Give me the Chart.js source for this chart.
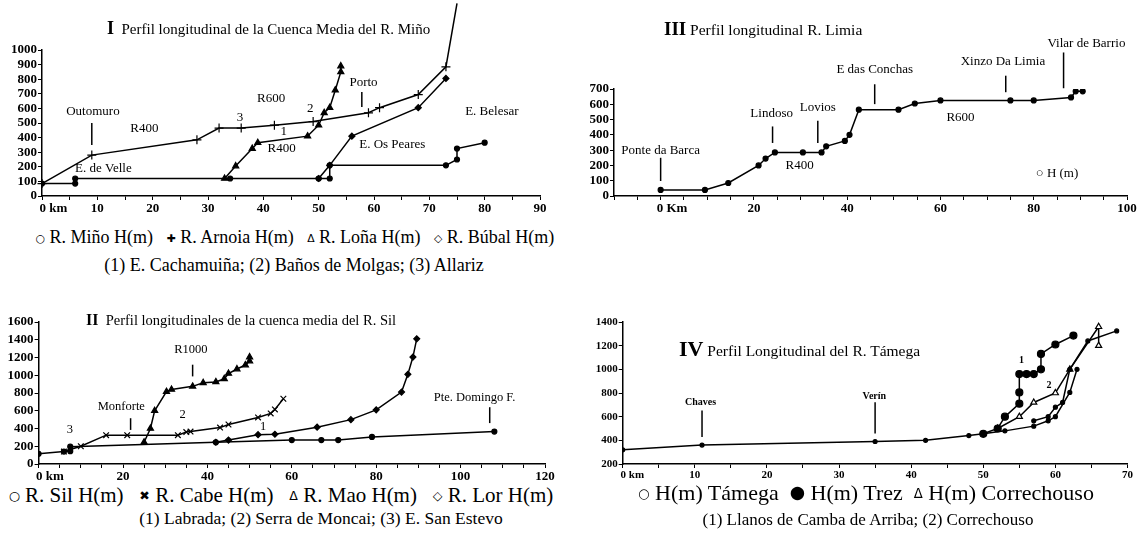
<!DOCTYPE html>
<html>
<head>
<meta charset="utf-8">
<script src="https://cdn.jsdelivr.net/npm/chart.js@4.4.1/dist/chart.umd.min.js"></script>
<style>
  body { margin: 0; background: #fff; width: 1140px; height: 553px; overflow: hidden; position: relative;
         font-family: "Liberation Serif", "Times New Roman", serif; color: #000; }
  canvas { position: absolute; }
  .c { position: absolute; white-space: nowrap; transform: translate(-50%, -50%); line-height: 1; }
  .l { position: absolute; white-space: nowrap; transform: translateY(-50%); line-height: 1; }
  .s { font-family: "DejaVu Sans", sans-serif; font-size: 0.6em; vertical-align: 0.12em; }
</style>
</head>
<body>
<canvas id="c1" width="560" height="225" style="left:0;top:0"></canvas>
<canvas id="c3" width="580" height="225" style="left:560px;top:0"></canvas>
<canvas id="c2" width="560" height="182" style="left:0;top:300px"></canvas>
<canvas id="c4" width="580" height="182" style="left:560px;top:300px"></canvas>

<div class="l" style="left:107px;top:28px;font-size:15px"><span style="font-size:18px;font-weight:bold">I</span>&nbsp; Perfil longitudinal de la Cuenca Media del R. Miño</div>
<div class="c" style="left:295px;top:237px;font-size:18px"><span class="s">○</span> R. Miño H(m)&nbsp;&nbsp; <span class="s">✚</span> R. Arnoia H(m)&nbsp;&nbsp; <span class="s">Δ</span> R. Loña H(m)&nbsp;&nbsp; <span class="s">◇</span> R. Búbal H(m)</div>
<div class="c" style="left:294px;top:265px;font-size:18px">(1) E. Cachamuiña; (2) Baños de Molgas; (3) Allariz</div>

<div class="l" style="left:664px;top:28px;font-size:15.5px"><span style="font-size:19px;font-weight:bold">III</span> Perfil longitudinal R. Limia</div>

<div class="l" style="left:86px;top:320px;font-size:14.5px"><span style="font-size:16px;font-weight:bold">II</span>&nbsp; Perfil longitudinales de la cuenca media del R. Sil</div>
<div class="c" style="left:281px;top:495px;font-size:21px"><span class="s">○</span> R. Sil H(m)&nbsp;&nbsp; <span class="s">✖</span> R. Cabe H(m)&nbsp;&nbsp; <span class="s">Δ</span> R. Mao H(m)&nbsp;&nbsp; <span class="s">◇</span> R. Lor H(m)</div>
<div class="c" style="left:321px;top:519px;font-size:17.5px">(1) Labrada; (2) Serra de Moncai; (3) E. San Estevo</div>

<div class="l" style="left:679px;top:349px;font-size:15.5px"><span style="font-size:22px;font-weight:bold">IV</span> Perfil Longitudinal del R. Támega</div>
<div class="c" style="left:866px;top:493px;font-size:22px"><span class="s">○</span> H(m) Támega&nbsp; <span class="s" style="font-size:0.8em">●</span> H(m) Trez&nbsp; <span class="s">Δ</span> H(m) Correchouso</div>
<div class="c" style="left:868px;top:519px;font-size:17px">(1) Llanos de Camba de Arriba; (2) Correchouso</div>

<script>
// ---- I: Cuenca media del Miño (km, m)
const minoKm   = [0, 6, 6, 34, 50, 52, 52, 73, 75, 75, 80];
const minoH    = [85, 85, 120, 120, 120, 120, 210, 210, 250, 325, 365];
const arnoiaKm = [0, 9, 28, 32, 36, 42, 49, 59, 61, 68, 73, 75];
const arnoiaH  = [85, 280, 385, 465, 465, 485, 510, 570, 605, 695, 885, 1320];
const lonaKm   = [33, 35, 38, 39, 48, 50, 51, 52, 53, 54, 54];
const lonaH    = [120, 205, 325, 365, 410, 485, 570, 605, 725, 850, 890];
const bubalKm  = [50, 52, 56, 68, 73];
const bubalH   = [120, 210, 410, 605, 805];

// ---- III: Limia
const limiaKm = [0, 9.5, 14.5, 21, 22.5, 24.5, 30.5, 34.5, 35.5, 39.5, 40.5, 42.5, 51, 54.5, 60, 75, 80, 88, 89, 90.5];
const limiaH  = [40, 40, 85, 200, 245, 285, 285, 285, 325, 360, 400, 565, 565, 605, 625, 625, 625, 645, 685, 685];

// ---- II: Sil
const silKm  = [0, 6, 7.5, 7.5, 42, 60, 67, 71, 79, 108];
const silH   = [115, 140, 145, 195, 245, 270, 270, 270, 305, 365];
const cabeKm = [6, 10, 16, 21, 33, 35, 36, 43, 45, 52, 55, 56, 58];
const cabeH  = [140, 200, 325, 325, 325, 360, 365, 410, 445, 525, 570, 615, 735];
const maoKm  = [25, 26.5, 27.5, 30.3, 31.5, 36.5, 39, 42, 44, 45, 47, 49, 50, 50];
const maoH   = [245, 400, 600, 815, 840, 875, 915, 925, 960, 1020, 1070, 1115, 1160, 1205];
const lorKm  = [42, 45, 52, 56, 66, 74, 80, 86, 87.5, 88.7, 89.6];
const lorH   = [245, 270, 330, 335, 415, 500, 610, 810, 1010, 1205, 1410];

// ---- IV: Támega
const tamegaKm  = [0, 11, 35, 42, 48, 50, 53, 57, 59, 60, 62, 63];
const tamegaH   = [320, 360, 390, 400, 440, 455, 480, 520, 565, 600, 805, 1000];
const tamega2Km = [57, 59, 60, 61, 62, 64.5, 68.5];
const tamega2H  = [565, 600, 680, 720, 1000, 1240, 1325];
const trezKm    = [50, 52, 53, 55, 55, 55, 56, 57, 58, 58, 60, 62.5];
const trezH     = [455, 500, 600, 710, 805, 960, 960, 960, 1000, 1130, 1210, 1285];
const correKm   = [52, 55, 57, 60, 62, 66, 66];
const correH    = [500, 600, 720, 800, 1000, 1360, 1200];

// place names and marks (km, m)
const notesI = [
  {t: 'Outomuro', x: 9.2, y: 580}, {t: 'R400', x: 18.5, y: 460}, {t: '3', x: 35.8, y: 540},
  {t: 'R600', x: 41.4, y: 667}, {t: '2', x: 48.5, y: 602}, {t: '1', x: 43.7, y: 441},
  {t: 'R400', x: 43.3, y: 326}, {t: 'Porto', x: 58.1, y: 777}, {t: 'E. Belesar', x: 81.3, y: 575},
  {t: 'E. Os Peares', x: 63.3, y: 352}, {t: 'E. de Velle', x: 11.1, y: 189}
];
const marksI = [{x: 9, y1: 500, y2: 350}, {x: 57.8, y1: 713, y2: 609}];
const notesIII = [
  {t: 'Ponte da Barca', x: 0, y: 297}, {t: 'Lindoso', x: 23.8, y: 542}, {t: 'Lovios', x: 33.7, y: 579},
  {t: 'E das Conchas', x: 45.9, y: 824}, {t: 'R600', x: 64.3, y: 510}, {t: 'R400', x: 29.8, y: 200},
  {t: 'Xinzo Da Limia', x: 73.4, y: 878}, {t: 'Vilar de Barrio', x: 91.3, y: 998}, {t: '○ H (m)', x: 85, y: 145}
];
const marksIII = [{x: 0, y1: 250, y2: 98}, {x: 24, y1: 455, y2: 347}, {x: 33.7, y1: 492, y2: 347},
  {x: 45.9, y1: 731, y2: 601}, {x: 74, y1: 787, y2: 679}, {x: 86.4, y1: 939, y2: 705}];
const notesII = [
  {t: 'R1000', x: 36.1, y: 1288}, {t: 'Monforte', x: 19.6, y: 648}, {t: '2', x: 34.1, y: 554},
  {t: '3', x: 7.4, y: 384}, {t: '1', x: 53.2, y: 422}, {t: 'Pte. Domingo F.', x: 103.3, y: 752}
];
const marksII = [{x: 36.5, y1: 1119, y2: 987}, {x: 21.8, y1: 516, y2: 384}, {x: 106.9, y1: 640, y2: 461}];
const notesIV = [
  {t: 'Chaves', x: 10.8, y: 722}, {t: 'Verín', x: 34.9, y: 769}, {t: '1', x: 55.3, y: 1076}, {t: '2', x: 59.1, y: 861}
];
const marksIV = [{x: 11, y1: 652, y2: 429}, {x: 35, y1: 722, y2: 457}];

const serif = '"Liberation Serif", "Times New Roman", serif';
const zip = (xs, ys) => xs.map((x, i) => ({x: x, y: ys[i]}));

function notesPlugin(notes, marks, font) {
  return {
    id: 'notes',
    afterDatasetsDraw(chart) {
      const {ctx, scales: {x, y}} = chart;
      ctx.save();
      ctx.fillStyle = '#000';
      ctx.strokeStyle = '#000';
      ctx.lineWidth = 1.5;
      ctx.font = font;
      ctx.textAlign = 'center';
      ctx.textBaseline = 'middle';
      notes.forEach(n => ctx.fillText(n.t, x.getPixelForValue(n.x), y.getPixelForValue(n.y)));
      marks.forEach(m => {
        const px = x.getPixelForValue(m.x);
        ctx.beginPath();
        ctx.moveTo(px, y.getPixelForValue(m.y1));
        ctx.lineTo(px, y.getPixelForValue(m.y2));
        ctx.stroke();
      });
      ctx.restore();
    }
  };
}

function series(xs, ys, style, r, fill, extra) {
  return Object.assign({
    data: zip(xs, ys), showLine: true, borderColor: '#000', borderWidth: 1.5,
    pointStyle: style, pointRadius: r, pointBorderColor: '#000', pointBackgroundColor: fill,
    pointBorderWidth: 1.2, tension: 0
  }, extra || {});
}

// o: canvas box, chart area (page px) and axes
function panel(id, o, datasets, plugin) {
  const yW = 36, xH = 20;
  const pad = {
    left: o.area.left - o.box.left - yW,
    right: o.box.left + o.box.w - o.area.right,
    top: o.area.top - o.box.top,
    bottom: o.box.top + o.box.h - o.area.bottom - xH
  };
  const tickFont = {family: serif, size: o.fs, weight: 'bold'};
  new Chart(document.getElementById(id), {
    type: 'scatter',
    data: {datasets: datasets},
    options: {
      responsive: false, animation: false,
      layout: {padding: pad},
      plugins: {legend: {display: false}, tooltip: {enabled: false}},
      scales: {
        x: {
          type: 'linear', min: o.xMin, max: o.xMax,
          afterFit: s => { s.height = xH; },
          ticks: {
            stepSize: o.xStep, autoSkip: false, maxRotation: 0, padding: 1, color: '#000', font: tickFont,
            callback: v => {
              if (Math.abs(v % o.xLab) > 1e-6) return '';
              return v === 0 ? '       0 ' + o.zero : String(v);
            }
          },
          grid: {drawOnChartArea: false, tickLength: 4, color: '#000', lineWidth: 1},
          border: {color: '#000', width: 1.5}
        },
        y: {
          type: 'linear', min: o.yMin, max: o.yMax,
          afterFit: s => { s.width = yW; },
          ticks: {stepSize: o.yStep, autoSkip: false, padding: 1, color: '#000', font: tickFont,
                  callback: v => String(v)},
          grid: {drawOnChartArea: false, tickLength: 4, color: '#000', lineWidth: 1},
          border: {color: '#000', width: 1.5}
        }
      }
    },
    plugins: [plugin]
  });
}

const topPoint = ctx => (ctx.dataIndex === arnoiaKm.length - 1 ? 0 : 4.5);

panel('c1', {
  box: {left: 0, top: 0, w: 560, h: 225}, area: {left: 42, right: 540, top: 50, bottom: 196},
  xMin: 0, xMax: 90, xStep: 5, xLab: 10, yMin: 0, yMax: 1000, yStep: 100, fs: 13, zero: 'km'
}, [
  series(minoKm, minoH, 'circle', 2.5, '#000'),
  series(arnoiaKm, arnoiaH, 'cross', topPoint, '#000', {clip: false}),
  series(lonaKm, lonaH, 'triangle', 3.5, '#000'),
  series(bubalKm, bubalH, 'rectRot', 3, '#000')
], notesPlugin(notesI, marksI, '13px ' + serif));

panel('c3', {
  box: {left: 560, top: 0, w: 580, h: 225}, area: {left: 614, right: 1127, top: 89, bottom: 196},
  xMin: -10, xMax: 100, xStep: 5, xLab: 20, yMin: 0, yMax: 700, yStep: 100, fs: 13, zero: 'Km'
}, [
  series(limiaKm, limiaH, 'circle', 2.5, '#000')
], notesPlugin(notesIII, marksIII, '13px ' + serif));

panel('c2', {
  box: {left: 0, top: 300, w: 560, h: 182}, area: {left: 38.6, right: 545, top: 322, bottom: 464},
  xMin: 0, xMax: 120, xStep: 5, xLab: 20, yMin: 0, yMax: 1600, yStep: 200, fs: 13, zero: 'km'
}, [
  series(silKm, silH, 'circle', 2.5, '#000'),
  series(cabeKm, cabeH, 'crossRot', 4, '#000'),
  series(maoKm, maoH, 'triangle', 3.5, '#000'),
  series(lorKm, lorH, 'rectRot', 3, '#000')
], notesPlugin(notesII, marksII, '12.5px ' + serif));

panel('c4', {
  box: {left: 560, top: 300, w: 580, h: 182}, area: {left: 622.7, right: 1127.5, top: 322, bottom: 464},
  xMin: 0, xMax: 70, xStep: 5, xLab: 10, yMin: 200, yMax: 1400, yStep: 200, fs: 11, zero: 'km'
}, [
  series(tamegaKm, tamegaH, 'circle', 2, '#000'),
  series(tamega2Km, tamega2H, 'circle', 2, '#000'),
  series(trezKm, trezH, 'circle', 3.5, '#000'),
  series(correKm, correH, 'triangle', 3.5, '#fff')
], notesPlugin(notesIV, marksIV, 'bold 10px ' + serif));
</script>
</body>
</html>
